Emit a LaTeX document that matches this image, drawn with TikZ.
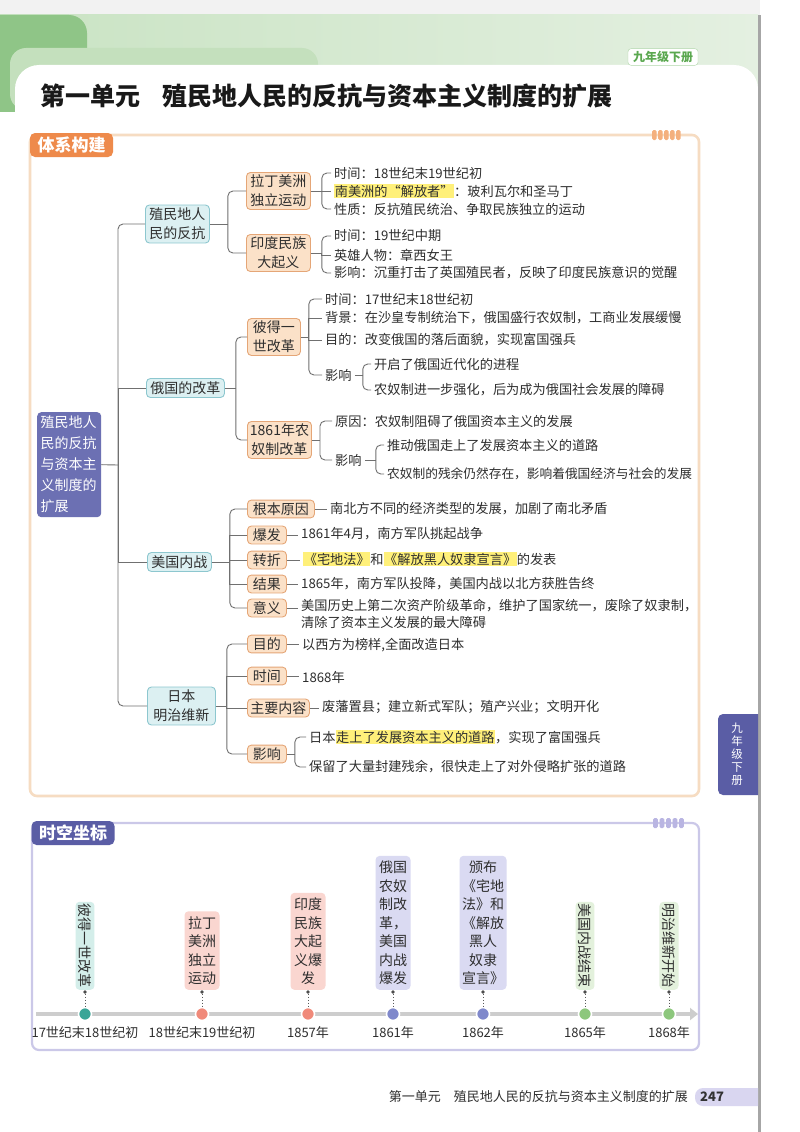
\documentclass[tikz,border=0pt]{standalone}
\usepackage{fontspec}
\setmainfont{Noto Sans CJK SC}
\usetikzlibrary{arrows.meta,calc}
\definecolor{peachF}{HTML}{FBE1C8}
\definecolor{peachD}{HTML}{E5A677}
\definecolor{cyanF}{HTML}{DCF0F2}
\definecolor{cyanD}{HTML}{8DC7CF}
\definecolor{rootF}{HTML}{6C70B3}
\definecolor{tabO}{HTML}{EE8A4B}
\definecolor{frameO}{HTML}{F6DCC2}
\definecolor{decoO}{HTML}{F4B07E}
\definecolor{tabP}{HTML}{5A5DA5}
\definecolor{frameP}{HTML}{CBC8E8}
\definecolor{decoP}{HTML}{B9B5E2}
\definecolor{hly}{HTML}{FFF07A}
\definecolor{lineG}{HTML}{707070}
\definecolor{txt}{HTML}{2E2E2E}
\definecolor{gA}{HTML}{8FC587}
\definecolor{gB}{HTML}{C9E3C3}
\definecolor{gC}{HTML}{E4F0E1}
\definecolor{gD}{HTML}{C4E0BD}
\definecolor{tagG}{HTML}{5BA850}
\definecolor{tealF}{HTML}{D4EEEA}
\definecolor{pinkF}{HTML}{FAD6D0}
\definecolor{lavF}{HTML}{DADAF2}
\definecolor{grnF}{HTML}{E3F1DC}
\definecolor{cTeal}{HTML}{3AA597}
\definecolor{cPink}{HTML}{F08A7A}
\definecolor{cBlue}{HTML}{7F88CB}
\definecolor{cGrn}{HTML}{8DC77D}
\definecolor{axisG}{HTML}{CDCDCD}
\definecolor{pillP}{HTML}{D9D6F0}
\newcommand\hlx[1]{\begingroup\setlength{\fboxsep}{0.6pt}\colorbox{hly}{#1}\endgroup}
\begin{document}
\begin{tikzpicture}[x=1pt,y=-1pt,
  conn/.style={draw=lineG, line width=0.9pt},
  rc/.style={rounded corners=5pt},
  lone/.style={draw=cyanD, fill=cyanF, line width=0.9pt, rounded corners=4pt, align=center, font=\fontsize{14}{19}\selectfont, text=txt, inner xsep=4pt, inner ysep=3pt, anchor=west},
  ltwo/.style={draw=peachD, fill=peachF, line width=0.9pt, rounded corners=4pt, align=center, font=\fontsize{14}{19}\selectfont, text=txt, inner xsep=4pt, inner ysep=2.5pt, anchor=west},
  lsing/.style={ltwo, inner xsep=5.5pt},
  leaf/.style={anchor=west, font=\fontsize{13.2}{17}\selectfont, text=txt, inner xsep=3pt, inner ysep=1.5pt},
  tabbox/.style={rounded corners=5pt, text=white, font=\fontsize{17}{20}\selectfont\bfseries, inner sep=0pt, minimum width=83pt, minimum height=24pt},
  tlbox/.style={rounded corners=4pt, align=center, font=\fontsize{14}{18.5}\selectfont, text=txt, inner xsep=3.5pt, inner ysep=5pt, anchor=south},
  tlrot/.style={rounded corners=4pt, font=\fontsize{14}{16}\selectfont, text=txt, inner xsep=2pt, inner ysep=3pt, rotate=-90, anchor=east},
  ring/.style={circle, fill=#1, draw=white, line width=1.6pt, minimum size=13pt, inner sep=0pt},
  pin/.style={circle, fill=black!70, minimum size=3.6pt, inner sep=0pt},
  date/.style={font=\fontsize{13}{15}\selectfont, text=txt, inner sep=1pt}
]
\useasboundingbox (0,0) rectangle (800,1132);
\fill[white] (0,0) rectangle (800,1132);
% ---------- header ----------
\fill[black!5] (0,0) rectangle (760,15);
\shade[left color=gB, right color=gC] (0,15) rectangle (758,112);
\fill[gA, rounded corners=18pt] (-30,15) rectangle (87,140);
\fill[gD, rounded corners=16pt] (10,48) rectangle (318,110);
\fill[white, rounded corners=24pt] (15,65) rectangle (758,160);
\fill[white] (0,112) rectangle (758,1132);
\node[draw=gA!70, fill=white, rounded corners=3pt, text=tagG, font=\fontsize{12}{14}\selectfont\bfseries, inner xsep=5pt, inner ysep=2.5pt] (grade) at (663,57) {九年级下册};
\node[anchor=west, text=black!90, font=\fontsize{25}{28}\selectfont\bfseries, inner sep=0pt] (title) at (40,96) {第一单元\hspace{0.9em}殖民地人民的反抗与资本主义制度的扩展};
% right page edge
\fill[black!35] (757.5,15) rectangle (760.5,1132);
% ---------- frame 1 ----------
\draw[frameO, line width=2.6pt, rounded corners=7pt] (30,135) rectangle (699,796);
\foreach \i in {0,...,4} \fill[decoO, rounded corners=1.5pt] ({652+6*\i},130) rectangle ++(4.5,10);
\node[tabbox, fill=tabO] (tab1) at (71.5,145) {体系构建};
% ---------- mind map nodes ----------
\node[anchor=north west, fill=rootF, rounded corners=4pt, text=white, align=left, font=\fontsize{14}{21}\selectfont, inner xsep=3.5pt, inner ysep=4pt, text width=57pt] (root) at (37,412) {殖民地人\\民的反抗\\与资本主\\义制度的\\扩展};
\node[lone] (l1a) at (145,224) {殖民地人\\民的反抗};
\node[lone] (l1b) at (146,388) {俄国的改革};
\node[lone] (l1c) at (147,562) {美国内战};
\node[lone, inner xsep=6pt] (l1d) at (147,706) {日本\\明治维新};
% group 1
\node[ltwo] (l2a) at (246,191) {拉丁美洲\\独立运动};
\node[ltwo] (l2b) at (246,253) {印度民族\\大起义};
\node[leaf] (la1) at (331,173) {时间：18世纪末19世纪初};
\node[leaf] (la2) at (331,191) {\hlx{南美洲的“解放者”}：玻利瓦尔和圣马丁};
\node[leaf] (la3) at (331,209) {性质：反抗殖民统治、争取民族独立的运动};
\node[leaf] (lb1) at (331,236) {时间：19世纪中期};
\node[leaf] (lb2) at (331,255) {英雄人物：章西女王};
\node[leaf] (lb3) at (331,273) {影响：沉重打击了英国殖民者，反映了印度民族意识的觉醒};
% group 2
\node[ltwo, inner xsep=5.5pt] (l2c) at (247,337) {彼得一\\世改革};
\node[ltwo, inner xsep=2.5pt] (l2d) at (247,440) {1861年农\\奴制改革};
\node[leaf] (lc1) at (322,299) {时间：17世纪末18世纪初};
\node[leaf] (lc2) at (322,318) {背景：在沙皇专制统治下，俄国盛行农奴制，工商业发展缓慢};
\node[leaf] (lc3) at (322,340) {目的：改变俄国的落后面貌，实现富国强兵};
\node[leaf] (lc4) at (322,375) {影响};
\node[leaf] (lc5) at (371,364) {开启了俄国近代化的进程};
\node[leaf] (lc6) at (371,390) {农奴制进一步强化，后为成为俄国社会发展的障碍};
\node[leaf] (ld1) at (332,421) {原因：农奴制阻碍了俄国资本主义的发展};
\node[leaf] (ld2) at (332,460) {影响};
\node[leaf] (ld3) at (384,445) {推动俄国走上了发展资本主义的道路};
\node[leaf, font=\fontsize{12.7}{17}\selectfont] (ld4) at (384,474) {农奴制的残余仍然存在，影响着俄国经济与社会的发展};
% group 3
\node[lsing] (m1) at (247,509) {根本原因};
\node[lsing] (m2) at (247,535) {爆发};
\node[lsing] (m3) at (247,560) {转折};
\node[lsing] (m4) at (247,584) {结果};
\node[lsing] (m5) at (247,608) {意义};
\node[leaf] (lm1) at (327,509) {南北方不同的经济类型的发展，加剧了南北矛盾};
\node[leaf] (lm2) at (298,534) {1861年4月，南方军队挑起战争};
\node[leaf] (lm3) at (300,559) {\hlx{《宅地法》}和\hlx{《解放黑人奴隶宣言》}的发表};
\node[leaf] (lm4) at (298,584) {1865年，南方军队投降，美国内战以北方获胜告终};
\node[leaf, anchor=north west, align=left] (lm5) at (298,598) {美国历史上第二次资产阶级革命，维护了国家统一，废除了奴隶制，\\清除了资本主义发展的最大障碍};
% group 4
\node[lsing] (j1) at (247,644) {目的};
\node[lsing] (j2) at (247,676) {时间};
\node[lsing, inner xsep=3pt] (j3) at (247,708) {主要内容};
\node[lsing] (j4) at (247,754) {影响};
\node[leaf] (lj1) at (299,645) {以西方为榜样,全面改造日本};
\node[leaf] (lj2) at (299,677) {1868年};
\node[leaf] (lj3) at (319,707) {废藩置县；建立新式军队；殖产兴业；文明开化};
\node[leaf] (lj4a) at (306,737) {日本\hlx{走上了发展资本主义的道路}，实现了富国强兵};
\node[leaf] (lj4b) at (306,767) {保留了大量封建残余，很快走上了对外侵略扩张的道路};
% ---------- mind map connectors ----------
\coordinate (tj) at (118,465);
\draw[conn] (root.east) -- (tj);
\draw[conn,rc] (l1a.west) -| (tj) |- (l1d.west);
\draw[conn] (tj) |- (l1b.west);
\draw[conn] (tj) |- (l1c.west);
% g1
\path (l1a.east) ++(18,0) coordinate (g1);
\draw[conn] (l1a.east) -- (g1);
\draw[conn,rc] (l2a.west) -| (g1) |- (l2b.west);
\path (l2a.east) ++(11,0) coordinate (ga);
\draw[conn] (l2a.east) -- (ga);
\draw[conn,rc] (la1.west) -| (ga) |- (la3.west);
\draw[conn] (ga) |- (la2.west);
\path (l2b.east) ++(11,0) coordinate (gb);
\draw[conn] (l2b.east) -- (gb);
\draw[conn,rc] (lb1.west) -| (gb) |- (lb3.west);
\draw[conn] (gb) |- (lb2.west);
% g2
\path (l1b.east) ++(11,0) coordinate (g2);
\draw[conn] (l1b.east) -- (g2);
\draw[conn,rc] (l2c.west) -| (g2) |- (l2d.west);
\path (l2c.east) ++(8,0) coordinate (gc);
\draw[conn] (l2c.east) -- (gc);
\draw[conn,rc] (lc1.west) -| (gc) |- (lc4.west);
\draw[conn] (gc) |- (lc2.west);
\draw[conn] (gc) |- (lc3.west);
\path (lc4.east) ++(8,0) coordinate (gc2);
\draw[conn] (lc4.east) -- (gc2);
\draw[conn,rc] (lc5.west) -| (gc2) |- (lc6.west);
\path (l2d.east) ++(8,0) coordinate (gd);
\draw[conn] (l2d.east) -- (gd);
\draw[conn,rc] (ld1.west) -| (gd) |- (ld2.west);
\path (ld2.east) ++(11,0) coordinate (gd2);
\draw[conn] (ld2.east) -- (gd2);
\draw[conn,rc] (ld3.west) -| (gd2) |- (ld4.west);
% g3
\path (l1c.east) ++(18,0) coordinate (g3);
\draw[conn] (l1c.east) -- (g3);
\draw[conn,rc] (m1.west) -| (g3) |- (m5.west);
\draw[conn] (g3) |- (m2.west);
\draw[conn] (g3) |- (m3.west);
\draw[conn] (g3) |- (m4.west);
\draw[conn] (m1.east) -- (m1.east -| lm1.west);
\draw[conn] (m2.east) -- (m2.east -| lm2.west);
\draw[conn] (m3.east) -- (m3.east -| lm3.west);
\draw[conn] (m4.east) -- (m4.east -| lm4.west);
\draw[conn] (m5.east) -- (m5.east -| lm5.west);
% g4
\path (l1d.east) ++(11,0) coordinate (g4);
\draw[conn] (l1d.east) -- (g4);
\draw[conn,rc] (j1.west) -| (g4) |- (j4.west);
\draw[conn] (g4) |- (j2.west);
\draw[conn] (g4) |- (j3.west);
\draw[conn] (j1.east) -- (j1.east -| lj1.west);
\draw[conn] (j2.east) -- (j2.east -| lj2.west);
\draw[conn] (j3.east) -- (j3.east -| lj3.west);
\path (j4.east) ++(8,0) coordinate (gj);
\draw[conn] (j4.east) -- (gj);
\draw[conn,rc] (lj4a.west) -| (gj) |- (lj4b.west);
% right side tab
\fill[tabP] (758,714) [rounded corners=5pt] -- (718,714) -- (718,795) [sharp corners] -- (758,795) -- cycle;
\node[text=white, align=center, font=\fontsize{11.5}{13}\selectfont, inner sep=0pt] (sidetab) at (737,754) {九\\年\\级\\下\\册};
% ---------- frame 2 ----------
\draw[frameP, line width=2.2pt, rounded corners=7pt] (32,823) rectangle (699,1050);
\foreach \i in {0,...,4} \fill[decoP, rounded corners=1.5pt] ({653+6.5*\i},818) rectangle ++(4.8,10);
\node[tabbox, fill=tabP] (tab2) at (73,833) {时空坐标};
% axis
\coordinate (ax0) at (36,1014);
\coordinate (ax1) at (698,1014);
\draw[axisG, line width=4pt, -{Triangle[length=8pt,width=12pt]}] (ax0) -- (ax1);
% timeline boxes
\node[tlrot, fill=tealF] (tb1) at (85,990) {彼得一世改革};
\node[tlbox, fill=pinkF] (tb2) at (202,990) {拉丁\\美洲\\独立\\运动};
\node[tlbox, fill=pinkF] (tb3) at (308,990) {印度\\民族\\大起\\义爆\\发};
\node[tlbox, fill=lavF] (tb4) at (393,990) {俄国\\农奴\\制改\\革，\\美国\\内战\\爆发};
\node[tlbox, fill=lavF, inner xsep=2.5pt] (tb5) at (483,990) {颁布\\《宅地\\法》和\\《解放\\黑人\\奴隶\\宣言》};
\node[tlrot, fill=grnF] (tb6) at (585,990) {美国内战结束};
\node[tlrot, fill=grnF] (tb7) at (669,990) {明治维新开始};
% pins, rings, dotted stems
\foreach \n/\x/\c in {1/85/cTeal,2/202/cPink,3/308/cPink,4/393/cBlue,5/483/cBlue,6/585/cGrn,7/669/cGrn}{
  \node[pin] (p\n) at (\x,992) {};
  \node[ring=\c] (c\n) at (\x,1014) {};
  \draw[black!65, line width=0.9pt, dotted] (p\n) -- (c\n);
}
% dates
\node[date] (t1) at (85,1033) {17世纪末18世纪初};
\node[date] (t2) at (202,1033) {18世纪末19世纪初};
\node[date] (t3) at (308,1033) {1857年};
\node[date] (t4) at (393,1033) {1861年};
\node[date] (t5) at (483,1033) {1862年};
\node[date] (t6) at (585,1033) {1865年};
\node[date] (t7) at (669,1033) {1868年};
% ---------- footer ----------
\node[anchor=east, text=txt, font=\fontsize{13}{15}\selectfont, inner sep=0pt] (foot) at (688,1097) {第一单元\hspace{1em}殖民地人民的反抗与资本主义制度的扩展};
\fill[pillP] (758,1088) [rounded corners=8pt] -- (695,1088) -- (695,1106) [sharp corners] -- (758,1106) -- cycle;
\node[anchor=west, text=black!80, font=\fontsize{13}{15}\selectfont\bfseries, inner sep=0pt] (pg) at (700,1097) {247};
\end{tikzpicture}
\end{document}
